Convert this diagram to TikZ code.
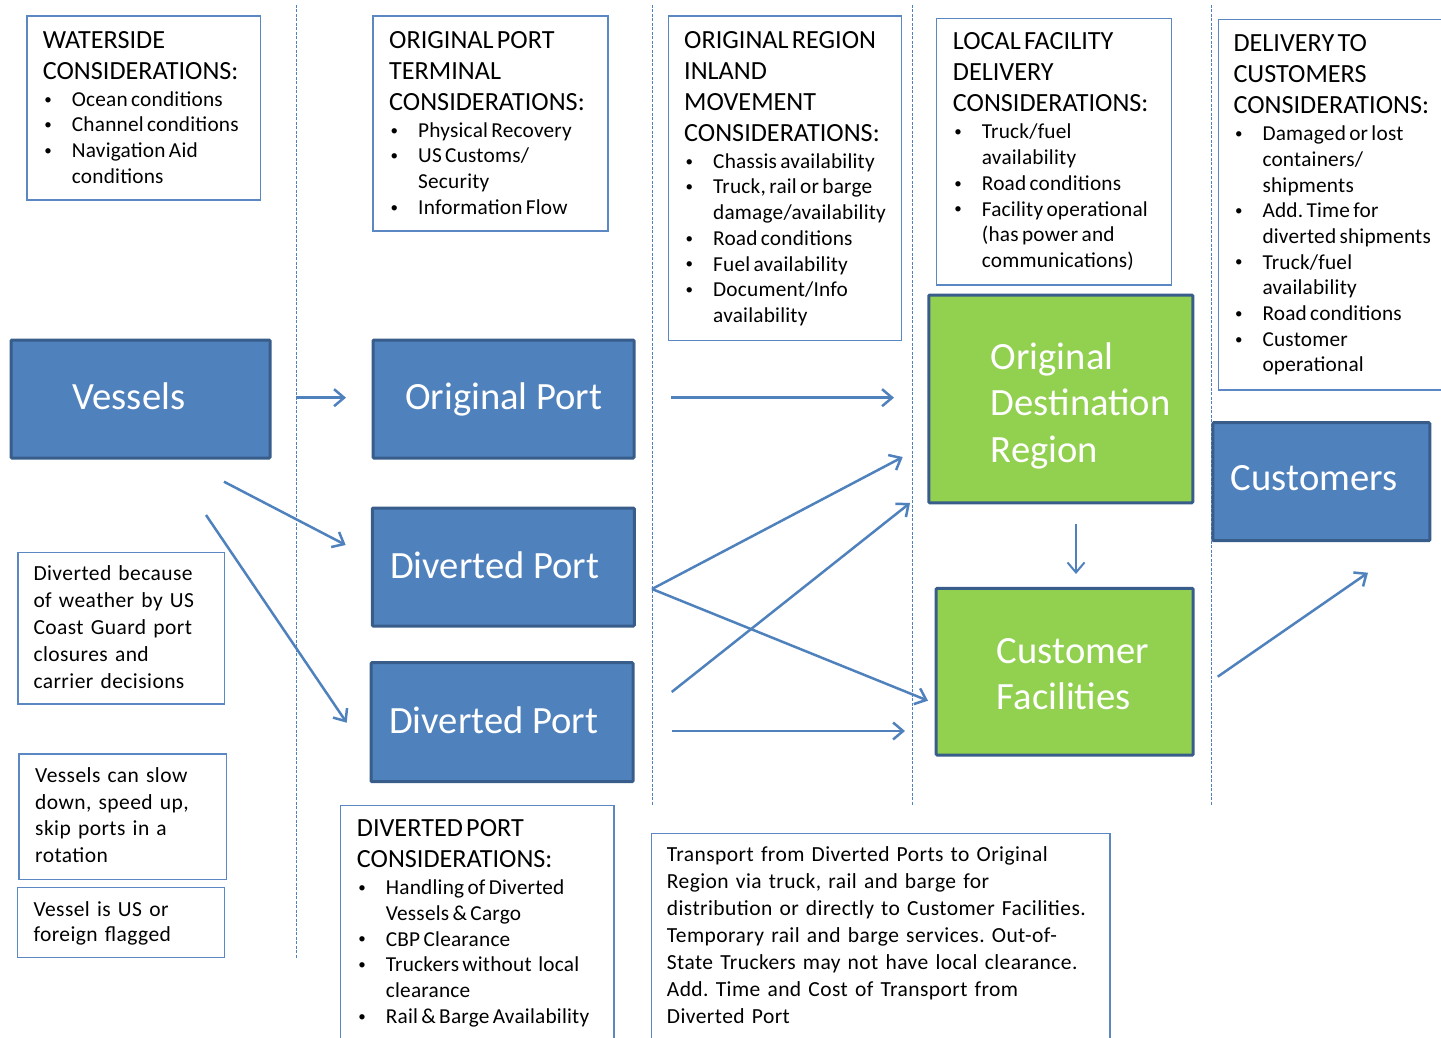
\documentclass[tikz,border=0pt]{standalone}
\usepackage{fontspec}
\setmainfont{Carlito}
\newfontfamily\bodyfont[LetterSpace=1]{Carlito}
\newfontfamily\tightfont[LetterSpace=2,WordSpace=0.7]{Carlito}
\usetikzlibrary{arrows.meta,calc}
\frenchspacing
\definecolor{fillblue}{HTML}{4F81BD}
\definecolor{edgeblue}{HTML}{385D8A}
\definecolor{leafgreen}{HTML}{92D050}
\definecolor{boxline}{HTML}{5B87C3}
\definecolor{arrowblue}{HTML}{4F81BD}
\newcommand{\hdf}{\fontsize{26.2}{31}\selectfont}
\newcommand{\bdf}{\bodyfont\fontsize{21.3}{25.7}\selectfont}
\newcommand{\bigf}{\fontsize{38.6}{46.5}\selectfont}
\newcommand{\bul}{\makebox[29pt][l]{\hspace{1.5pt}\raisebox{2.2pt}{\fontsize{15}{15}\selectfont\textbullet}}}
\newcommand{\itm}[1]{\par\hangindent=29pt\hangafter=1\noindent\bul#1}
\tikzset{
  infobox/.style={draw=boxline, line width=1.5pt, fill=white, inner sep=0pt},
  bluebox/.style={draw=edgeblue, line width=3pt, fill=fillblue, inner sep=0pt, rounded corners=1pt},
  greenbox/.style={draw=edgeblue, line width=3pt, fill=leafgreen, inner sep=0pt, rounded corners=1pt},
  textblock/.style={inner sep=0pt, anchor=base west, text width=#1, execute at begin node={\raggedright\frenchspacing}},
  biglabel/.style={inner sep=0pt, anchor=base west, text=white, font=\bigf},
  divider/.style={draw=arrowblue, line width=1pt, dash pattern=on 3pt off 1.5pt},
  conn/.style={draw=arrowblue, line width=2.5pt, -{Straight Barb[length=10pt,width=17pt]}}
}
\begin{document}
\begin{tikzpicture}[x=1pt,y=-1pt]
\useasboundingbox (0,0) rectangle (1441,1038);

% dividers
\coordinate (d1t) at (296,5);  \coordinate (d1b) at (296,958);
\coordinate (d2t) at (652,5);  \coordinate (d2b) at (652,805);
\coordinate (d3t) at (912,5);  \coordinate (d3b) at (912,805);
\coordinate (d4t) at (1211,5); \coordinate (d4b) at (1211,805);
\draw[divider] (d1t) -- (d1b);
\draw[divider] (d2t) -- (d2b);
\draw[divider] (d3t) -- (d3b);
\draw[divider] (d4t) -- (d4b);

% info boxes
\node[infobox, minimum width=233.7pt, minimum height=184pt] (wsbox) at (143.85,108) {};
\node[infobox, minimum width=235pt, minimum height=215pt] (optbox) at (490.5,123.5) {};
\node[infobox, minimum width=233.4pt, minimum height=324.7pt] (orbox) at (785,178.35) {};
\node[infobox, minimum width=235pt, minimum height=266.7pt] (lfbox) at (1054.2,151.65) {};
\node[infobox, minimum width=231.7pt, minimum height=370.7pt] (dcbox) at (1334.15,204.65) {};
\node[infobox, minimum width=206.3pt, minimum height=151.3pt] (divbox) at (121.15,628.35) {};
\node[infobox, minimum width=207.7pt, minimum height=125.3pt] (slowbox) at (122.85,816.65) {};
\node[infobox, minimum width=206.6pt, minimum height=69.6pt] (flagbox) at (121,922.5) {};
\node[infobox, minimum width=273.3pt, minimum height=239.3pt] (dpcbox) at (477.35,925.35) {};
\node[infobox, minimum width=458.3pt, minimum height=211.7pt] (trbox) at (880.85,939.15) {};

% info texts
\node[textblock=230pt] (wstext) at (42.7,48.3) {{\hdf WATERSIDE\newline CONSIDERATIONS:\par}\bdf\vspace{1.3pt}%
\itm{Ocean conditions}\itm{Channel conditions}\itm{Navigation Aid\newline conditions}\par};

\node[textblock=230pt] (opttext) at (389,48.3) {{\hdf ORIGINAL PORT\newline TERMINAL\newline CONSIDERATIONS:\par}\bdf\vspace{1.3pt}%
\itm{Physical Recovery}\itm{US Customs/\newline Security}\itm{Information Flow}\par};

\node[textblock=230pt] (ortext) at (684,48.3) {{\hdf ORIGINAL REGION\newline INLAND\newline MOVEMENT\newline CONSIDERATIONS:\par}\bdf\vspace{1.3pt}%
\itm{Chassis availability}\itm{Truck, rail or barge\newline damage/availability}\itm{Road conditions}\itm{Fuel availability}\itm{Document/Info\newline availability}\par};

\node[textblock=230pt] (lftext) at (952.7,50) {{\hdf LOCAL FACILITY\newline DELIVERY\newline CONSIDERATIONS:\par}\bdf\vspace{1.3pt}%
\itm{Truck/fuel\newline availability}\itm{Road conditions}\itm{Facility operational\newline (has power and\newline communications)}\par};

\node[textblock=230pt] (dctext) at (1233.3,51.7) {{\hdf DELIVERY TO\newline CUSTOMERS\newline CONSIDERATIONS:\par}\bdf\vspace{1.3pt}%
\itm{Damaged or lost\newline containers/\newline shipments}\itm{Add. Time for\newline diverted shipments}\itm{Truck/fuel\newline availability}\itm{Road conditions}\itm{Customer\newline operational}\par};

\node[textblock=200pt, font=\tightfont\fontsize{21.5}{26.9}\selectfont] (divtext) at (33.3,580.7)
  {Diverted because\newline of weather by US\newline Coast Guard port\newline closures and\newline carrier decisions};
\node[textblock=200pt, font=\tightfont\fontsize{21.5}{26.8}\selectfont] (slowtext) at (35,782.3)
  {Vessels can slow\newline down, speed up,\newline skip ports in a\newline rotation};
\node[textblock=200pt, font=\tightfont\fontsize{21.5}{25.7}\selectfont] (flagtext) at (33.3,916)
  {Vessel is US or\newline foreign flagged};

\node[textblock=260pt] (dpctext) at (356.7,836.7) {{\hdf DIVERTED PORT\newline CONSIDERATIONS:\par}\bdf\vspace{1.3pt}%
\itm{Handling of Diverted\newline Vessels \& Cargo}\itm{CBP Clearance}\itm{Truckers without\ \ local\newline clearance}\itm{Rail \& Barge Availability}\par};

\node[textblock=440pt, font=\tightfont\fontsize{21.5}{27}\selectfont] (trtext) at (666.7,861.7)
  {Transport from Diverted Ports to Original\newline Region via truck, rail and barge for\newline distribution or directly to Customer Facilities.\newline Temporary rail and barge services. Out-of-\newline State Truckers may not have local clearance.\newline Add. Time and Cost of Transport from\newline Diverted Port};

% main boxes
\node[bluebox, minimum width=259pt, minimum height=118pt] (vessels) at (140.5,399) {};
\node[bluebox, minimum width=261pt, minimum height=118pt] (origport) at (503.5,399) {};
\node[bluebox, minimum width=262pt, minimum height=118pt] (divport1) at (503.3,567) {};
\node[bluebox, minimum width=262pt, minimum height=119pt] (divport2) at (502,722.2) {};
\node[greenbox, minimum width=264pt, minimum height=207.7pt] (odr) at (1060.8,398.9) {};
\node[greenbox, minimum width=257pt, minimum height=166.7pt] (custfac) at (1064.7,671.7) {};
\node[bluebox, minimum width=217pt, minimum height=118pt] (customers) at (1321.3,481.7) {};

\node[biglabel] (vesselslbl) at (72.4,409) {Vessels};
\node[biglabel] (origportlbl) at (405,409) {Original Port};
\node[biglabel] (divport1lbl) at (390,578) {Diverted Port};
\node[biglabel] (divport2lbl) at (389,733) {Diverted Port};
\node[biglabel, align=left, text width=200pt] (odrlbl) at (990.7,369) {Original\\Destination\\Region};
\node[biglabel, align=left, text width=200pt] (custfaclbl) at (996.7,663) {Customer\\Facilities};
\node[biglabel] (customerslbl) at (1230.7,490.7) {Customers};

% connectors
\coordinate (a1s) at (296,397.7);   \coordinate (a1e) at (346,397.7);
\coordinate (a2s) at (224,481.7);   \coordinate (a2e) at (345.7,545);
\coordinate (a3s) at (206,515);     \coordinate (a3e) at (346.7,722.7);
\coordinate (a4s) at (671,397.7);   \coordinate (a4e) at (894,397.7);
\coordinate (a5s) at (652,589);     \coordinate (a5e) at (902.7,457);
\coordinate (a6e) at (928,700.7);
\coordinate (a7s) at (671.7,692);   \coordinate (a7e) at (910,503);
\coordinate (a8s) at (672,731);     \coordinate (a8e) at (905,731);
\coordinate (a9s) at (1076,524);    \coordinate (a9e) at (1076,574);
\coordinate (a10s) at (1217.7,676.7); \coordinate (a10e) at (1368,572.7);
\draw[conn] (a1s) -- (a1e);
\draw[conn] (a2s) -- (a2e);
\draw[conn] (a3s) -- (a3e);
\draw[conn] (a4s) -- (a4e);
\draw[conn] (a5s) -- (a5e);
\draw[conn] (a5s) -- (a6e);
\draw[conn] (a7s) -- (a7e);
\draw[conn] (a8s) -- (a8e);
\draw[conn, line width=2pt] (a9s) -- (a9e);
\draw[conn] (a10s) -- (a10e);
\end{tikzpicture}
\end{document}
